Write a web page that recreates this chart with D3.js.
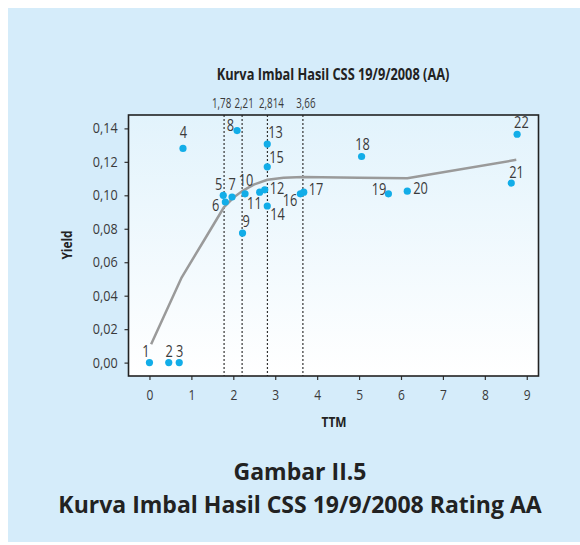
<!DOCTYPE html>
<html lang="id">
<head>
    <meta charset="UTF-8">
    <title>Kurva Imbal Hasil CSS</title>
    <script src="https://cdn.jsdelivr.net/npm/d3@7"></script>
    <style>
        body { margin: 0; background: #ffffff; }
        text { font-family: "Open Sans", "Noto Sans", sans-serif; }
    </style>
</head>
<body>
<script>
    // obligasi (titik)
    const bondIds = [1, 2, 3, 4, 5, 6, 7, 8, 9, 10, 11, 12, 13, 14, 15, 16, 17, 18, 19, 20, 21, 22]
    const bondTtm = [0, 0.46, 0.71, 0.80, 1.76, 1.81, 1.97, 2.09, 2.22, 2.28, 2.63, 2.75, 2.81, 2.81, 2.81, 3.60, 3.68, 5.06, 5.70, 6.15, 8.63, 8.77]
    const bondYield = [0, 0, 0, 0.128, 0.100, 0.096, 0.099, 0.1387, 0.0774, 0.1009, 0.1019, 0.1033, 0.1306, 0.0936, 0.117, 0.1009, 0.1019, 0.1232, 0.1009, 0.1025, 0.1073, 0.1365]

    // kurva imbal hasil
    const curveTtm = [0.04, 0.77, 1.3, 1.78, 2.0, 2.21, 2.5, 2.814, 3.2, 3.66, 5.0, 6.15, 8.75]
    const curveYield = [0.011, 0.051, 0.073, 0.093, 0.0985, 0.1025, 0.1065, 0.1093, 0.1105, 0.111, 0.1105, 0.1102, 0.1212]

    // garis vertikal
    const cutTtm = [1.78, 2.21, 2.814, 3.66]
    const cutLabels = ['1,78', '2,21', '2,814', '3,66']

    const xTicks = [0, 1, 2, 3, 4, 5, 6, 7, 8, 9]
    const yTicks = [0, 0.02, 0.04, 0.06, 0.08, 0.10, 0.12, 0.14]

    // posisi label titik: [dx, dy, anchor]
    const labelPos = [
        [0, -6, 'end'], [0.5, -6, 'middle'], [0.5, -6, 'middle'], [0.5, -10, 'middle'],
        [-1, -5, 'end'], [-6, 9, 'end'], [0, -7, 'middle'], [-3, 0, 'end'],
        [0, -6, 'start'], [1, -8, 'middle'], [2, 17, 'end'], [5, 4, 'start'],
        [1, -6, 'start'], [3, 14, 'start'], [2, -4, 'start'], [-3, 12, 'end'],
        [5, 3, 'start'], [1, -6, 'middle'], [-2, 1, 'end'], [6, 3, 'start'],
        [-2, -5, 'start'], [-3, -6, 'start']
    ]

    const width = 580
    const height = 545
    const plot = { left: 128.5, right: 538.5, top: 115, bottom: 376 }

    const svg = d3.select('body')
        .append('svg')
        .attr('width', width)
        .attr('height', height)

    svg.append('rect')
        .attr('x', 8)
        .attr('y', 8)
        .attr('width', width - 8)
        .attr('height', 534)
        .attr('fill', '#d5ecfa')

    const grad = svg.append('defs')
        .append('linearGradient')
        .attr('id', 'plotbg')
        .attr('x1', 0).attr('y1', 0).attr('x2', 0).attr('y2', 1)
    grad.append('stop').attr('offset', '0%').attr('stop-color', '#e2f3fc')
    grad.append('stop').attr('offset', '100%').attr('stop-color', '#ffffff')

    const x = d3.scaleLinear()
        .domain([-0.5, 9.28])
        .range([plot.left, plot.right])

    const y = d3.scaleLinear()
        .domain([-0.008, 0.148])
        .range([plot.bottom, plot.top])

    svg.append('rect')
        .attr('x', plot.left)
        .attr('y', plot.top)
        .attr('width', plot.right - plot.left)
        .attr('height', plot.bottom - plot.top)
        .attr('fill', 'url(#plotbg)')

    // teks sempit (font condensed tidak tersedia, jadi diskalakan)
    function narrowText(parent, px, py, str, size, sx, anchor) {
        return parent.append('text')
            .attr('transform', `translate(${px},${py}) scale(${sx},1)`)
            .attr('text-anchor', anchor || 'middle')
            .attr('font-size', size)
            .attr('fill', '#3a3a3a')
            .text(str)
    }

    const fmt = (d) => d3.format('.2f')(d).replace('.', ',')

    const xAxis = svg.append('g')
        .attr('transform', `translate(0,${plot.bottom})`)
        .call(d3.axisBottom(x).tickValues(xTicks).tickSize(4).tickPadding(9))
    xAxis.selectAll('text')
        .attr('font-size', 15)
        .attr('transform', 'scale(0.8,1)')

    const yAxis = svg.append('g')
        .attr('transform', `translate(${plot.left},0)`)
        .call(d3.axisLeft(y).tickValues(yTicks).tickSize(4).tickPadding(8).tickFormat(fmt))
    yAxis.selectAll('text')
        .attr('font-size', 14)
        .attr('transform', 'scale(0.9,1)')

    for (const ax of [xAxis, yAxis]) {
        ax.select('.domain').remove()
        ax.selectAll('line').attr('stroke', '#333').attr('stroke-width', 1.2)
        ax.selectAll('text').attr('fill', '#3a3a3a')
    }

    // garis putus-putus
    svg.selectAll('.cut')
        .data(cutTtm)
        .enter()
        .append('line')
        .attr('class', 'cut')
        .attr('x1', (d) => x(d))
        .attr('x2', (d) => x(d))
        .attr('y1', plot.top)
        .attr('y2', plot.bottom)
        .attr('stroke', '#333')
        .attr('stroke-width', 1.2)
        .attr('stroke-dasharray', '2,2')

    cutLabels.forEach((d, i) => {
        narrowText(svg, x(cutTtm[i]) + [-2.5, 2, 4, 3][i], 108, d, 14, 0.7)
    })

    const line = d3.line()
        .x((d) => x(d[0]))
        .y((d) => y(d[1]))
        .curve(d3.curveLinear)

    svg.append('path')
        .datum(curveTtm.map((t, i) => [t, curveYield[i]]))
        .attr('d', line)
        .attr('fill', 'none')
        .attr('stroke', '#9a9a9a')
        .attr('stroke-width', 2.5)
        .attr('stroke-linejoin', 'round')

    svg.selectAll('.dot')
        .data(bondIds)
        .enter()
        .append('circle')
        .attr('class', 'dot')
        .attr('cx', (d, i) => x(bondTtm[i]))
        .attr('cy', (d, i) => y(bondYield[i]))
        .attr('r', 3.6)
        .attr('fill', '#12ade8')

    bondIds.forEach((d, i) => {
        narrowText(svg,
            x(bondTtm[i]) + labelPos[i][0],
            y(bondYield[i]) + labelPos[i][1],
            d, 16, 0.8, labelPos[i][2])
    })

    // bingkai
    svg.append('rect')
        .attr('x', plot.left)
        .attr('y', plot.top)
        .attr('width', plot.right - plot.left)
        .attr('height', plot.bottom - plot.top)
        .attr('fill', 'none')
        .attr('stroke', '#222')
        .attr('stroke-width', 1.6)

    narrowText(svg, 333, 80, 'Kurva Imbal Hasil CSS 19/9/2008 (AA)', 16, 0.8)
        .attr('font-weight', 'bold')
        .attr('fill', '#222')

    narrowText(svg, 334, 427, 'TTM', 14, 0.85)
        .attr('font-weight', 'bold')
        .attr('fill', '#222')

    svg.append('text')
        .attr('transform', 'translate(72,245) rotate(-90) scale(0.85,1)')
        .attr('text-anchor', 'middle')
        .attr('font-size', 14)
        .attr('font-weight', 'bold')
        .attr('fill', '#222')
        .text('Yield')

    const caption = svg.append('text')
        .attr('text-anchor', 'middle')
        .attr('font-size', 23)
        .attr('font-weight', 'bold')
        .attr('fill', '#222')

    caption.append('tspan')
        .attr('x', 300)
        .attr('y', 480)
        .text('Gambar II.5')

    caption.append('tspan')
        .attr('x', 300)
        .attr('y', 513)
        .text('Kurva Imbal Hasil CSS 19/9/2008 Rating AA')
</script>
</body>
</html>
